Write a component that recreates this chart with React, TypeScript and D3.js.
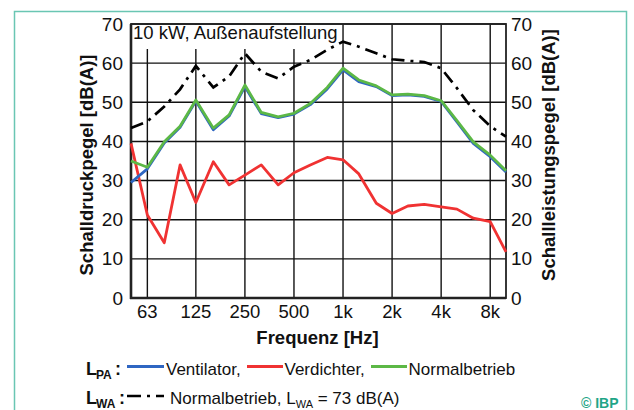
import React from "react";
import * as d3 from "d3";

const freqs = [50, 63, 80, 100, 125, 160, 200, 250, 315, 400, 500, 630, 800, 1000, 1250, 1600, 2000, 2500, 3150, 4000, 5000, 6300, 8000, 10000];
const ventilator = [29.5, 33.0, 39.6, 43.6, 50.3, 43.0, 46.5, 54.0, 47.1, 46.1, 47.0, 49.4, 53.4, 58.3, 55.3, 54.0, 51.7, 51.9, 51.5, 50.2, 45.0, 39.5, 36.1, 32.2];
const verdichter = [39.5, 21.2, 14.1, 34.0, 24.4, 34.8, 28.9, 31.4, 34.0, 28.9, 32.0, 34.0, 35.9, 35.3, 31.7, 24.2, 21.6, 23.5, 23.9, 23.3, 22.7, 20.4, 19.5, 11.8];
const normalbetrieb = [35.0, 33.4, 39.9, 43.9, 50.6, 43.4, 46.8, 54.4, 47.4, 46.3, 47.2, 49.7, 53.8, 58.7, 55.7, 54.2, 51.9, 52.1, 51.7, 50.4, 45.3, 39.9, 36.5, 32.5];
const lwaNormal = [43.4, 45.1, 48.9, 53.3, 59.3, 53.8, 56.6, 62.5, 57.8, 56.1, 59.1, 60.8, 63.4, 65.5, 64.2, 62.5, 61.0, 60.6, 60.3, 58.7, 53.6, 48.0, 43.9, 41.2];

const xTickValues = [63, 125, 250, 500, 1000, 2000, 4000, 8000];
const xTickLabels = ["63", "125", "250", "500", "1k", "2k", "4k", "8k"];
const yTicks = [0, 10, 20, 30, 40, 50, 60, 70];

const W = 634;
const H = 410;
const L = 131, R = 506, T = 24, B = 298;
const FONT = "'Liberation Sans', Arial, sans-serif";

export default function App() {
  const x = d3.scaleLog().domain([50, 10000]).range([L, R]);
  const y = d3.scaleLinear().domain([0, 70]).range([B, T]);
  const line = (vals: number[]) =>
    d3.line<number>().x((_, i) => x(freqs[i])).y((v) => y(v))(vals) || "";

  const blue = "#2f66c2";
  const red = "#f03232";
  const green = "#5cb846";

  return (
    <svg width={W} height={H} style={{ position: "absolute", left: 0, top: 0, background: "#fff" }} fontFamily={FONT}>
      <rect x={0} y={0} width={W} height={H} fill="#fff" />
      {/* teal frame */}
      <path d={`M14.5,${H + 2} V11.5 H626.5 V${H + 2}`} fill="none" stroke="#6ac6b3" strokeWidth={1.5} />

      {/* grid */}
      {yTicks.map((t) => (
        <line key={"h" + t} x1={L} x2={R} y1={y(t)} y2={y(t)} stroke="#111" strokeWidth={1.4} />
      ))}
      {xTickValues.map((t) => (
        <line key={"v" + t} x1={x(t)} x2={x(t)} y1={T} y2={B} stroke="#111" strokeWidth={1.4} />
      ))}
      {/* title box */}
      <rect x={L + 1} y={T + 1} width={207} height={24} fill="#fff" />
      <text x={133} y={38.5} fontSize={18.5} fill="#111">10 kW, Außenaufstellung</text>

      {/* frame */}
      <rect x={L} y={T} width={R - L} height={B - T} fill="none" stroke="#222" strokeWidth={1.8} />
      <line x1={L} x2={L} y1={T} y2={B + 1} stroke="#222" strokeWidth={2.6} />
      <line x1={L - 1} x2={R} y1={B} y2={B} stroke="#222" strokeWidth={2.6} />

      {/* data */}
      <path d={line(lwaNormal)} fill="none" stroke="#000" strokeWidth={2.7} strokeDasharray="13,6,3,6" />
      <path d={line(verdichter)} fill="none" stroke={red} strokeWidth={2.8} strokeLinejoin="round" />
      <path d={line(ventilator)} fill="none" stroke={blue} strokeWidth={2.8} strokeLinejoin="round" />
      <path d={line(normalbetrieb)} fill="none" stroke={green} strokeWidth={2.8} strokeLinejoin="round" />

      {/* y labels */}
      {yTicks.map((t) => (
        <text key={"yl" + t} x={123} y={y(t) + 6.5} fontSize={19} textAnchor="end" fill="#111">{t}</text>
      ))}
      {yTicks.map((t) => (
        <text key={"yr" + t} x={511} y={y(t) + 6.5} fontSize={19} textAnchor="start" fill="#111">{t}</text>
      ))}
      {/* x labels */}
      {xTickValues.map((t, i) => (
        <text key={"xl" + t} x={x(t)} y={318} fontSize={18.5} textAnchor="middle" fill="#111">{xTickLabels[i]}</text>
      ))}
      <text x={317.5} y={344} fontSize={18.5} fontWeight="bold" textAnchor="middle" fill="#111">Frequenz [Hz]</text>
      <text transform={`translate(93,165) rotate(-90)`} fontSize={18.5} fontWeight="bold" textAnchor="middle" fill="#111">Schalldruckpegel [dB(A)]</text>
      <text transform={`translate(555,155) rotate(-90)`} fontSize={18.5} fontWeight="bold" textAnchor="middle" fill="#111">Schallleistungspegel [dB(A)]</text>

      {/* legend row 1 */}
      <text x={86} y={375} fontSize={18} fontWeight="bold" fill="#111">L</text>
      <text x={96} y={379} fontSize={12} fontWeight="bold" fill="#111">PA</text>
      <text x={115} y={375} fontSize={18} fontWeight="bold" fill="#111">:</text>
      <line x1={127} x2={164} y1={366.5} y2={366.5} stroke={blue} strokeWidth={2.8} />
      <text x={166} y={375} fontSize={17} fill="#111">Ventilator,</text>
      <line x1={247} x2={283} y1={366.5} y2={366.5} stroke={red} strokeWidth={2.8} />
      <text x={284.5} y={375} fontSize={17} fill="#111">Verdichter,</text>
      <line x1={371} x2={407} y1={366.5} y2={366.5} stroke={green} strokeWidth={2.8} />
      <text x={408.5} y={375} fontSize={17} fill="#111">Normalbetrieb</text>

      {/* legend row 2 */}
      <text x={86} y={404} fontSize={18} fontWeight="bold" fill="#111">L</text>
      <text x={96} y={408} fontSize={12} fontWeight="bold" fill="#111">WA</text>
      <text x={119} y={404} fontSize={18} fontWeight="bold" fill="#111">:</text>
      <line x1={127} x2={164} y1={396} y2={396} stroke="#000" strokeWidth={2.7} strokeDasharray="14,6,3,6,8" />
      <text x={170} y={404} fontSize={17} fill="#111">
        Normalbetrieb, L<tspan fontSize={11} dy={4}>WA</tspan><tspan dy={-4}> = 73 dB(A)</tspan>
      </text>

      <text x={581} y={407.5} fontSize={14} fontWeight="bold" fill="#1fa587">© IBP</text>
    </svg>
  );
}
